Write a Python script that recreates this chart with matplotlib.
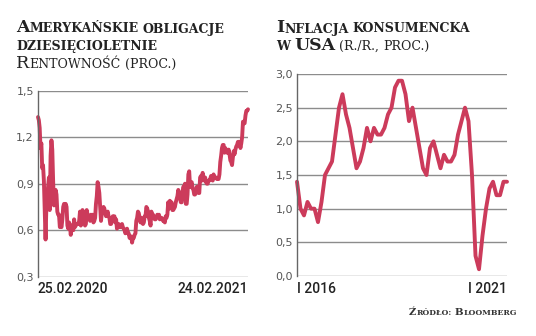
import numpy as np
import pandas as pd
import matplotlib
matplotlib.use("Agg")
import matplotlib.pyplot as plt

# 10y US Treasury yield, trading days 25.02.2020 - 24.02.2021 (proc.)
yields = [
    1.33, 1.31, 1.26, 1.13,
    1.16, 1.00, 1.02, 0.92, 0.74, 0.54, 0.76, 0.82, 0.88, 0.94, 0.73, 1.08, 1.18, 1.12, 0.92, 0.76, 0.84, 0.86, 0.83, 0.72, 0.70, 0.70,
    0.62, 0.63, 0.62, 0.67, 0.75, 0.77, 0.73, 0.77, 0.75, 0.63, 0.61, 0.65, 0.63, 0.57, 0.63, 0.62, 0.60, 0.67, 0.62, 0.63, 0.64,
    0.64, 0.64, 0.66, 0.72, 0.63, 0.69, 0.73, 0.67, 0.66, 0.63, 0.64, 0.73, 0.70, 0.68, 0.68, 0.66, 0.70, 0.69, 0.70, 0.65,
    0.66, 0.68, 0.77, 0.82, 0.91, 0.88, 0.84, 0.75, 0.66, 0.71, 0.72, 0.75, 0.74, 0.71, 0.69, 0.71, 0.72, 0.69, 0.68, 0.64, 0.64, 0.66,
    0.69, 0.68, 0.69, 0.65, 0.67, 0.61, 0.64, 0.64, 0.62, 0.63, 0.62, 0.64, 0.62, 0.61, 0.60, 0.58, 0.59, 0.61, 0.58, 0.58, 0.55, 0.55,
    0.56, 0.52, 0.55, 0.55, 0.57, 0.58, 0.66, 0.68, 0.72, 0.71, 0.68, 0.65, 0.68, 0.65, 0.64, 0.65, 0.69, 0.69, 0.75, 0.74, 0.72,
    0.68, 0.66, 0.63, 0.72, 0.68, 0.70, 0.68, 0.67, 0.67, 0.68, 0.70, 0.69, 0.70, 0.67, 0.68, 0.68, 0.67, 0.66, 0.66, 0.65, 0.69,
    0.68, 0.70, 0.78, 0.74, 0.79, 0.77, 0.78, 0.73, 0.73, 0.74, 0.75, 0.78, 0.80, 0.82, 0.86, 0.84, 0.81, 0.78, 0.78, 0.84, 0.88,
    0.87, 0.90, 0.77, 0.77, 0.83, 0.96, 0.98, 0.88, 0.90, 0.91, 0.87, 0.86, 0.83, 0.83, 0.86, 0.88, 0.88, 0.84, 0.84,
    0.94, 0.95, 0.92, 0.97, 0.94, 0.92, 0.94, 0.91, 0.90, 0.90, 0.92, 0.92, 0.93, 0.95, 0.94, 0.92, 0.96, 0.94, 0.94, 0.94, 0.93, 0.93,
    0.93, 0.96, 1.04, 1.08, 1.13, 1.15, 1.15, 1.10, 1.13, 1.11, 1.10, 1.10, 1.12, 1.09, 1.05, 1.04, 1.02, 1.07, 1.11,
    1.09, 1.12, 1.14, 1.15, 1.17, 1.17, 1.16, 1.13, 1.16, 1.20, 1.30, 1.29, 1.29, 1.34, 1.37, 1.37, 1.38,
]
yield_ticks = [0.3, 0.6, 0.9, 1.2, 1.5]
yield_xlabels = ["25.02.2020", "24.02.2021"]

# US CPI y/y, monthly I 2016 - I 2021 (proc.)
cpi = [
    1.4, 1.0, 0.9, 1.1, 1.0, 1.0, 0.8, 1.1, 1.5, 1.6, 1.7, 2.1,
    2.5, 2.7, 2.4, 2.2, 1.9, 1.6, 1.7, 1.9, 2.2, 2.0, 2.2, 2.1,
    2.1, 2.2, 2.4, 2.5, 2.8, 2.9, 2.9, 2.7, 2.3, 2.5, 2.2, 1.9,
    1.6, 1.5, 1.9, 2.0, 1.8, 1.6, 1.8, 1.7, 1.7, 1.8, 2.1, 2.3,
    2.5, 2.3, 1.5, 0.3, 0.1, 0.6, 1.0, 1.3, 1.4, 1.2, 1.2, 1.4,
    1.4,
]
cpi_ticks = [0.0, 0.5, 1.0, 1.5, 2.0, 2.5, 3.0]
cpi_xlabels = ["I 2016", "I 2021"]

RED = "#cc3b5b"
GRID = "#8c8c8c"
SERIF = "DejaVu Serif"

fig = plt.figure(figsize=(5.36, 3.36), dpi=100)
W, H = 536, 336


def fx(px):
    return px / W


def fy(py):
    return 1 - py / H


def style_axis(ax, ticks, fmt):
    ax.set_yticks(ticks)
    ax.set_yticklabels([fmt(t).replace(".", ",") for t in ticks],
                       fontsize=8, color="#555555", family="DejaVu Sans")
    ax.set_ylim(ticks[0], ticks[-1])
    ax.grid(axis="y", color=GRID, linewidth=1.0)
    ax.set_axisbelow(True)
    for s in ["top", "right", "bottom"]:
        ax.spines[s].set_visible(False)
    ax.spines["left"].set_color("#666666")
    ax.spines["left"].set_linewidth(1.0)
    ax.tick_params(length=0, pad=3)
    ax.tick_params(axis="x", pad=4)


def set_end_labels(ax, n, labels):
    ax.set_xlim(0, n - 1)
    ax.set_xticks([0, n - 1])
    ax.set_xticklabels(labels, fontsize=10, color="#222222",
                       family="Roboto", fontweight="medium")
    tl = ax.get_xticklabels()
    tl[0].set_ha("left")
    tl[1].set_ha("right")


ax1 = fig.add_axes([fx(38), fy(276.7), fx(248) - fx(38), fy(90.7) - fy(276.7)])
ax1.plot(np.arange(len(yields)), yields, color=RED, linewidth=2.8,
         solid_joinstyle="round", solid_capstyle="round", clip_on=False)
style_axis(ax1, yield_ticks, lambda t: f"{t:.1f}")
set_end_labels(ax1, len(yields), yield_xlabels)

ax2 = fig.add_axes([fx(297), fy(276), fx(507) - fx(297), fy(74) - fy(276)])
ax2.plot(np.arange(len(cpi)), cpi, color=RED, linewidth=2.8,
         solid_joinstyle="round", solid_capstyle="round", clip_on=False)
style_axis(ax2, cpi_ticks, lambda t: f"{t:.1f}")
set_end_labels(ax2, len(cpi), cpi_xlabels)

renderer = fig.canvas.get_renderer()


def caps_line(x_px, y_px, pieces, color="#222222", ha="left"):
    # fake small caps: each piece is (text, fontsize, weight); " " is a gap
    x = x_px
    texts = []
    for s, size, weight in pieces:
        if s == " ":
            x += size * 0.3 * 100 / 72
            continue
        t = fig.text(fx(x), fy(y_px), s, fontsize=size, fontweight=weight,
                     family=SERIF, color=color, va="baseline", ha="left")
        bb = t.get_window_extent(renderer)
        x = bb.x1 + 0.3
        texts.append(t)
    if ha == "right":
        shift = x_px - x
        for t in texts:
            px, py = t.get_position()
            t.set_position((px + shift / W, py))


BIG, SMALL = 12.5, 9.0
caps_line(16, 32.5, [("A", BIG, "bold"), ("MERYKAŃSKIE", SMALL, "bold"), (" ", SMALL, "bold"),
                     ("OBLIGACJE", SMALL, "bold")])
caps_line(16, 50, [("DZIESIĘCIOLETNIE", SMALL, "bold")])
caps_line(16, 68, [("R", BIG, "normal"), ("ENTOWNOŚĆ", SMALL, "normal"), (" ", SMALL, "normal"),
                   ("(PROC.)", SMALL, "normal")])

caps_line(276, 32.5, [("I", BIG, "bold"), ("NFLACJA", SMALL, "bold"), (" ", SMALL, "bold"),
                      ("KONSUMENCKA", SMALL, "bold")])
caps_line(276, 50, [("W", SMALL, "bold"), (" ", SMALL, "bold"), ("USA", BIG, "bold"),
                    (" ", SMALL, "normal"), ("(R./R.,", SMALL, "normal"), (" ", SMALL, "normal"),
                    ("PROC.)", SMALL, "normal")])

caps_line(517, 315, [("Ź", 7.3, "bold"), ("RÓDŁO:", 5.6, "bold"), (" ", 5.6, "bold"),
                     ("B", 7.3, "bold"), ("LOOMBERG", 5.6, "bold")], color="#333333", ha="right")

fig.savefig("out.png", dpi=100)
